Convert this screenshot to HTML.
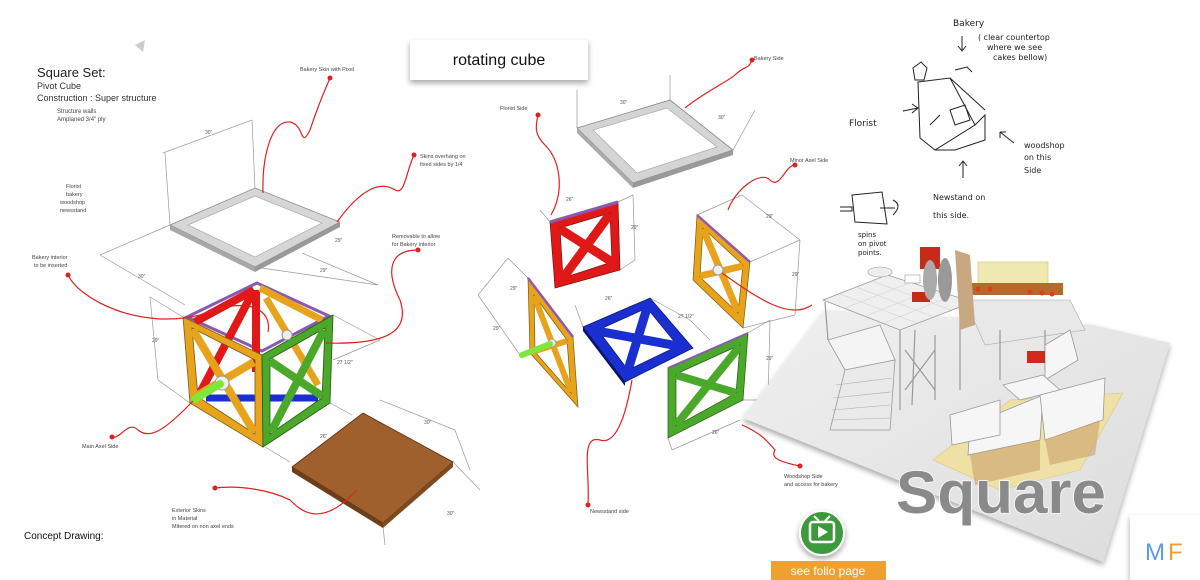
<!DOCTYPE html>
<html><head><meta charset="utf-8"><style>
html,body{margin:0;padding:0;background:#fff;}
body{width:1200px;height:580px;overflow:hidden;position:relative;font-family:"Liberation Sans",sans-serif;}
svg{position:absolute;left:0;top:0;}
</style></head><body>
<svg width="1200" height="580" viewBox="0 0 1200 580" xmlns="http://www.w3.org/2000/svg" font-family="Liberation Sans, sans-serif">
<defs>
<filter id="sh" x="-20%" y="-20%" width="140%" height="160%"><feDropShadow dx="0" dy="3" stdDeviation="3" flood-opacity="0.35"/></filter>
<linearGradient id="plat" x1="0" y1="0" x2="1" y2="1"><stop offset="0" stop-color="#f0f0f0"/><stop offset="1" stop-color="#dcdcdc"/></linearGradient>
</defs>

<!-- Left title text -->
<text x="37" y="77" font-size="13" fill="#222">Square Set:</text>
<text x="37" y="89" font-size="9" fill="#333">Pivot Cube</text>
<text x="37" y="101" font-size="9" fill="#333">Construction : Super structure</text>
<text x="57" y="113" font-size="6" fill="#444">Structure walls</text>
<text x="57" y="121" font-size="6" fill="#444">Amplaned 3/4" ply</text>
<text x="24" y="539" font-size="10" fill="#111">Concept Drawing:</text>
<text x="66" y="188" font-size="5.5" fill="#444">Florist</text>
<text x="66" y="196" font-size="5.5" fill="#444">bakery</text>
<text x="60" y="204" font-size="5.5" fill="#444">woodshop</text>
<text x="60" y="212" font-size="5.5" fill="#444">newsstand</text>
<text x="32" y="259" font-size="5.5" fill="#444">Bakery interior</text>
<text x="34" y="267" font-size="5.5" fill="#444">to be inserted</text>
<text x="82" y="448" font-size="5.5" fill="#444">Main Axel Side</text>
<text x="300" y="71" font-size="5.5" fill="#444">Bakery Skin with Pixel</text>
<text x="420" y="158" font-size="5.5" fill="#444">Skins overhang on</text>
<text x="420" y="166" font-size="5.5" fill="#444">fixed sides by 1/4</text>
<text x="392" y="238" font-size="5.5" fill="#444">Removable to allow</text>
<text x="392" y="246" font-size="5.5" fill="#444">for Bakery interior</text>
<text x="172" y="512" font-size="5.5" fill="#444">Exterior Skins</text>
<text x="172" y="520" font-size="5.5" fill="#444">in Material</text>
<text x="172" y="528" font-size="5.5" fill="#444">Mitered on non axel ends</text>
<text x="500" y="110" font-size="5.5" fill="#444">Florist Side</text>
<text x="754" y="60" font-size="5.5" fill="#444">Bakery Side</text>
<text x="790" y="162" font-size="5.5" fill="#444">Minor Axel Side</text>
<text x="590" y="513" font-size="5.5" fill="#444">Newsstand side</text>
<text x="784" y="478" font-size="5.5" fill="#444">Woodshop Side</text>
<text x="784" y="486" font-size="5.5" fill="#444">and access for bakery</text>

<!-- dimension lines -->
<g stroke="#999" stroke-width="0.7" fill="none">
<path d="M163 153 L252 120 M252 120 L255 188 M165 153 L170 225"/>
<path d="M100 255 L170 225 M100 255 L185 305 M302 253 L378 285 M255 267 L378 285"/>
<path d="M150 297 L183 317 M150 297 L158 380 M158 380 L190 403 M333 315 L380 340 M380 340 L333 360"/>
<path d="M265 447 L290 462 M330 403 L352 415 M380 400 L455 430 M455 430 L470 470 M383 527 L385 545 M453 462 L480 490"/>
<path d="M577 128 L577 90 M670 100 L670 75 M733 150 L755 110"/>
<path d="M550 222 L540 210 M618 202 L633 195 M633 195 L635 260 M620 270 L635 260"/>
<path d="M697 215 L742 195 M742 195 L800 240 M800 240 L795 315 M750 262 L800 240 M743 328 L795 315"/>
<path d="M528 278 L508 258 M508 258 L478 295 M478 295 L520 355 M575 305 L583 327 M650 298 L690 320 M690 320 L710 340"/>
<path d="M748 333 L770 320 M770 320 L768 400 M743 400 L768 400 M668 438 L672 450 M672 450 L740 420"/>
</g>
<g font-size="5" fill="#555">
<text x="205" y="134">30"</text><text x="138" y="278">30"</text><text x="335" y="242">29"</text><text x="152" y="342">29"</text>
<text x="337" y="364">27 1/2"</text><text x="320" y="272">29"</text><text x="320" y="438">26"</text><text x="424" y="424">30"</text><text x="447" y="515">30"</text>
<text x="620" y="104">30"</text><text x="718" y="119">30"</text><text x="566" y="201">26"</text><text x="631" y="229">29"</text><text x="766" y="218">29"</text><text x="792" y="276">29"</text>
<text x="510" y="290">29"</text><text x="493" y="330">29"</text><text x="605" y="300">26"</text><text x="678" y="318">27 1/2"</text><text x="766" y="360">29"</text><text x="712" y="434">26"</text>
</g>

<!-- Top frame left -->
<polygon points="170,225 255,188 340,222 255,267" fill="#d6d6d6" stroke="#888" stroke-width="0.8"/>
<polygon points="188,225 255,196 322,223 255,257" fill="#fff" stroke="#aaa" stroke-width="0.7"/>
<polygon points="170,225 255,267 255,272 170,230" fill="#a8a8a8"/>
<polygon points="255,267 340,222 340,227 255,272" fill="#999"/>

<!-- Cube -->
<polygon points="183,317 257,280 333,315 262,355" fill="#fff"/>
<polygon points="187,317 257,283 329,316 262,351" fill="none" stroke="#8a5ab0" stroke-width="3"/>
<g stroke="#e01818" stroke-width="8"><line x1="195" y1="322" x2="254" y2="290"/><line x1="200" y1="393" x2="254" y2="290"/><line x1="256" y1="290" x2="256" y2="372"/></g>
<line x1="260" y1="288" x2="322" y2="320" stroke="#e8a31c" stroke-width="7"/>
<line x1="266" y1="298" x2="318" y2="385" stroke="#e8a31c" stroke-width="7"/>
<line x1="206" y1="398" x2="318" y2="398" stroke="#1a2fd0" stroke-width="7"/>
<!-- left face -->
<path d="M183,317 L262,355 L263,447 L190,403 Z M192,328 L255,360 L255,434 L198,397 Z" fill="#e8a31c" fill-rule="evenodd" stroke="#7a5a10" stroke-width="0.8"/>
<g stroke="#e8a31c" stroke-width="8"><line x1="193" y1="330" x2="254" y2="432"/><line x1="254" y1="362" x2="198" y2="395"/></g>
<!-- right face -->
<path d="M262,355 L333,315 L330,403 L263,447 Z M270,359 L325,328 L322,398 L270,434 Z" fill="#4aa82a" fill-rule="evenodd" stroke="#2a5a10" stroke-width="0.8"/>
<g stroke="#4aa82a" stroke-width="8"><line x1="270" y1="361" x2="322" y2="396"/><line x1="324" y1="330" x2="271" y2="432"/></g>
<circle cx="222" cy="383" r="7" fill="#eee" stroke="#999"/>
<line x1="195" y1="399" x2="220" y2="384" stroke="#7de83a" stroke-width="8" stroke-linecap="round"/>
<circle cx="287" cy="335" r="5" fill="#eee" stroke="#999"/>

<!-- brown skin -->
<polygon points="292,467 363,413 453,462 383,523" fill="#a0602e" stroke="#5a3010" stroke-width="0.8"/>
<polygon points="292,467 383,523 383,528 292,472" fill="#6e3e18"/>
<polygon points="383,523 453,462 453,467 383,528" fill="#7e4a20"/>

<!-- rotating cube label -->
<rect x="410" y="40" width="178" height="40" fill="#fff" filter="url(#sh)"/>
<text x="499" y="65" font-size="16" text-anchor="middle" fill="#111">rotating cube</text>
<polygon points="135,45 145,40 143,52" fill="#ccc"/>

<!-- Middle exploded -->
<polygon points="577,128 670,100 733,150 633,183" fill="#d4d4d4" stroke="#888" stroke-width="0.8"/>
<polygon points="593,130 667,108 717,147 637,173" fill="#fff" stroke="#aaa" stroke-width="0.7"/>
<polygon points="577,128 633,183 633,188 577,133" fill="#aaa"/>
<polygon points="633,183 733,150 733,155 633,188" fill="#999"/>
<!-- red panel -->
<path d="M550,222 L618,202 L620,270 L555,288 Z M560,228 L610,213 L612,262 L563,278 Z" fill="#e01818" fill-rule="evenodd" stroke="#7a1010" stroke-width="0.7"/>
<g stroke="#e01818" stroke-width="9"><line x1="560" y1="229" x2="612" y2="262"/><line x1="610" y1="214" x2="563" y2="278"/></g>
<line x1="550" y1="222" x2="618" y2="202" stroke="#8a5ab0" stroke-width="3"/>
<!-- right orange panel -->
<path d="M697,215 L750,262 L743,328 L693,280 Z M703,228 L743,265 L738,313 L700,277 Z" fill="#e8a31c" fill-rule="evenodd" stroke="#7a5a10" stroke-width="0.7"/>
<g stroke="#e8a31c" stroke-width="7"><line x1="703" y1="229" x2="738" y2="312"/><line x1="743" y1="266" x2="700" y2="276"/></g>
<line x1="697" y1="215" x2="750" y2="262" stroke="#8a5ab0" stroke-width="2.5"/>
<circle cx="718" cy="270" r="5" fill="#eee" stroke="#999"/>
<!-- left orange panel -->
<path d="M528,278 L573,337 L578,407 L530,353 Z M534,295 L567,340 L571,393 L535,352 Z" fill="#e8a31c" fill-rule="evenodd" stroke="#7a5a10" stroke-width="0.7"/>
<g stroke="#e8a31c" stroke-width="6"><line x1="534" y1="296" x2="571" y2="392"/><line x1="567" y1="341" x2="535" y2="351"/></g>
<line x1="528" y1="278" x2="573" y2="337" stroke="#8a5ab0" stroke-width="2.5"/>
<circle cx="552" cy="343" r="4" fill="#eee" stroke="#999"/>
<line x1="522" y1="355" x2="550" y2="344" stroke="#7de83a" stroke-width="6" stroke-linecap="round"/>
<!-- blue -->
<path d="M583,327 L650,298 L693,348 L625,382 Z M598,330 L647,308 L678,346 L628,370 Z" fill="#1a2fd0" fill-rule="evenodd" stroke="#0a1570" stroke-width="0.7"/>
<g stroke="#1a2fd0" stroke-width="9"><line x1="597" y1="331" x2="678" y2="346"/><line x1="647" y1="308" x2="628" y2="370"/></g>
<polygon points="583,327 625,382 625,386 583,331" fill="#0a1570"/>
<!-- green -->
<path d="M668,368 L748,333 L743,400 L668,438 Z M676,374 L740,345 L736,393 L676,426 Z" fill="#4aa82a" fill-rule="evenodd" stroke="#2a5a10" stroke-width="0.7"/>
<g stroke="#4aa82a" stroke-width="8"><line x1="676" y1="375" x2="736" y2="393"/><line x1="740" y1="346" x2="676" y2="425"/></g>
<line x1="668" y1="368" x2="748" y2="333" stroke="#8a5ab0" stroke-width="2"/>

<!-- Platform floor -->
<polygon points="743,418 825,310 1093,325 1170,343 1103,562" fill="url(#plat)" filter="url(#sh)"/>
<!-- yellow mats -->
<polygon points="933,460 1010,400 1123,393 1080,470 1000,490" fill="#efe0a6" stroke="#d8c680" stroke-width="0.6"/>
<!-- elevated grid platform -->
<polygon points="823,300 887,275 973,302 900,330" fill="#efefef" stroke="#999" stroke-width="0.8"/>
<g stroke="#ccc" stroke-width="0.5">
<line x1="840" y1="294" x2="917" y2="323"/><line x1="856" y1="287" x2="934" y2="317"/><line x1="872" y1="281" x2="951" y2="310"/>
<line x1="845" y1="308" x2="909" y2="283"/><line x1="866" y1="316" x2="930" y2="290"/><line x1="884" y1="323" x2="951" y2="296"/>
</g>
<!-- right upper deck -->
<polygon points="965,300 1070,300 1085,330 985,345" fill="#e8e8e8" stroke="#aaa" stroke-width="0.6"/>
<!-- legs -->
<g stroke="#999" stroke-width="1.2">
<line x1="825" y1="302" x2="828" y2="340"/><line x1="900" y1="330" x2="900" y2="410"/><line x1="915" y1="330" x2="912" y2="405"/><line x1="935" y1="335" x2="935" y2="400"/>
<line x1="960" y1="320" x2="960" y2="390"/><line x1="1000" y1="330" x2="1000" y2="380"/><line x1="1045" y1="330" x2="1045" y2="370"/>
<line x1="905" y1="350" x2="935" y2="390"/><line x1="935" y1="350" x2="905" y2="390"/>
</g>
<!-- stair block -->
<polygon points="828,340 880,325 895,360 845,370" fill="#f4f4f4" stroke="#999" stroke-width="0.8"/>
<polygon points="845,370 895,360 890,430 830,430" fill="#eaeaea" stroke="#999" stroke-width="0.8"/>
<g stroke="#aaa" stroke-width="0.6"><line x1="836" y1="385" x2="892" y2="378"/><line x1="833" y1="398" x2="891" y2="392"/><line x1="832" y1="410" x2="890" y2="405"/><line x1="831" y1="420" x2="890" y2="418"/></g>
<!-- tables -->
<g fill="#f6f6f6" stroke="#999" stroke-width="0.8">
<polygon points="1045,345 1070,330 1078,360 1045,380"/>
<polygon points="1003,385 1043,375 1060,390 1020,400"/>
<polygon points="970,425 1043,395 1040,440 968,455"/>
<polygon points="1040,395 1105,378 1103,420 1045,440"/>
<polygon points="950,415 1000,400 1000,435 952,445"/>
</g>
<polygon points="970,455 1040,440 1040,470 975,485" fill="#c9a06a" opacity="0.6"/>
<polygon points="1045,440 1100,420 1095,455 1050,465" fill="#c9a06a" opacity="0.6"/>
<!-- produce -->
<rect x="978" y="262" width="70" height="22" fill="#efe8b0" stroke="#c8b870" stroke-width="0.5"/>
<rect x="968" y="283" width="95" height="12" fill="#b8682a"/>
<g fill="#d8401a"><circle cx="978" cy="289" r="2.5"/><circle cx="990" cy="289" r="2.5"/><circle cx="1030" cy="292" r="2.5"/><circle cx="1042" cy="293" r="2.5"/><circle cx="1052" cy="294" r="2.5"/></g>
<rect x="920" y="247" width="20" height="22" fill="#c82a1a"/>
<rect x="912" y="292" width="18" height="10" fill="#c82a1a"/>
<rect x="1027" y="351" width="18" height="12" fill="#d02a1a"/>
<polygon points="955,250 970,255 975,325 960,330" fill="#c8a880"/>
<ellipse cx="930" cy="280" rx="7" ry="20" fill="#aaa"/><ellipse cx="945" cy="280" rx="7" ry="22" fill="#999"/>
<ellipse cx="880" cy="272" rx="12" ry="5" fill="#eee" stroke="#999" stroke-width="0.6"/>
<rect x="905" y="275" width="15" height="8" fill="#fff" stroke="#999" stroke-width="0.6"/>

<!-- Square text -->
<text x="896" y="513" font-size="60" font-weight="bold" fill="#8a8a8a" stroke="#fff" stroke-width="1.5" paint-order="stroke" textLength="210" lengthAdjust="spacingAndGlyphs">Square</text>

<!-- sketch -->
<g font-family="DejaVu Sans, sans-serif" fill="#222">
<text x="953" y="26" font-size="9">Bakery</text>
<text x="978" y="40" font-size="8">( clear countertop</text>
<text x="987" y="50" font-size="8">where we see</text>
<text x="993" y="60" font-size="8">cakes bellow)</text>
<text x="849" y="126" font-size="9">Florist</text>
<text x="1024" y="148" font-size="8">woodshop</text>
<text x="1024" y="160" font-size="8">on this</text>
<text x="1024" y="173" font-size="8">Side</text>
<text x="933" y="200" font-size="8">Newstand on</text>
<text x="933" y="218" font-size="8">this side.</text>
<text x="858" y="237" font-size="7">spins</text>
<text x="858" y="246" font-size="7">on pivot</text>
<text x="858" y="255" font-size="7">points.</text>
</g>
<g stroke="#222" stroke-width="1" fill="none">
<path d="M918 82 L950 78 L975 125 L935 150 L920 138 Z M975 125 L985 115 L985 140 L955 150 L935 150 M950 78 L985 110"/>
<path d="M913 68 l8 -6 l6 6 l-3 12 l-9 0 z M955 70 l12 -3 l5 5"/>
<path d="M950 110 l15 -5 l5 15 l-15 5 z M930 125 l10 -10"/>
<path d="M962 36 L962 50 M958 46 L962 51 L966 46 M904 111 L903 111 L918 108 M912 104 L918 108 L912 113 M1014 143 L1000 132 M1000 132 L1006 132 M1000 132 L1000 138 M963 178 L963 162 M959 166 L963 161 L967 166"/>
<path d="M852 195 L882 192 L887 224 L855 222 Z M840 211 L852 211 L852 207 L840 207 M880 208 L895 208 M893 200 q10 5 0 15"/>
</g>

<!-- red connectors -->
<g stroke="#e02020" stroke-width="1.2" fill="none">
<path d="M263 193 C 262 160, 270 120, 290 122 C 305 125, 300 150, 310 130 C 320 100, 325 90, 330 78"/>
<path d="M337 222 C 360 190, 380 180, 395 190 C 405 195, 405 175, 414 155"/>
<path d="M268 332 C 272 310, 250 295, 200 315 C 140 330, 80 300, 68 275"/>
<path d="M326 343 C 390 345, 410 330, 400 300 C 385 270, 390 250, 418 250"/>
<path d="M193 401 C 165 430, 150 440, 138 430 C 128 420, 120 440, 112 437"/>
<path d="M357 490 C 320 530, 300 510, 290 500 C 270 490, 240 485, 215 488"/>
<path d="M551 215 C 565 190, 560 160, 545 145 C 535 135, 535 128, 538 115"/>
<path d="M685 108 C 700 95, 730 80, 735 75 C 745 65, 748 70, 752 60"/>
<path d="M728 210 C 735 190, 760 170, 770 180 C 780 190, 785 165, 795 165"/>
<path d="M722 273 C 760 300, 790 320, 812 305"/>
<path d="M632 380 C 625 420, 615 445, 600 440 C 580 435, 590 470, 588 505"/>
<path d="M742 425 C 765 435, 770 445, 775 450 C 770 458, 780 462, 800 466"/>
</g>
<g fill="#e02020">
<circle cx="414" cy="155" r="2.5"/><circle cx="330" cy="78" r="2.5"/><circle cx="418" cy="250" r="2.5"/><circle cx="68" cy="275" r="2.5"/><circle cx="112" cy="437" r="2.5"/>
<circle cx="215" cy="488" r="2.5"/><circle cx="538" cy="115" r="2.5"/><circle cx="752" cy="60" r="2.5"/><circle cx="795" cy="165" r="2.5"/>
<circle cx="588" cy="505" r="2.5"/><circle cx="800" cy="466" r="2.5"/>
</g>

<!-- folio button -->
<circle cx="822" cy="533" r="22" fill="#3a9a3a" stroke="#fff" stroke-width="2" filter="url(#sh)"/>
<rect x="810" y="522" width="24" height="20" rx="3" fill="none" stroke="#fff" stroke-width="2.5"/>
<polygon points="818,526 818,538 828,532" fill="#fff"/>
<path d="M814 516 L819 521 M830 516 L825 521" stroke="#fff" stroke-width="2"/>
<rect x="771" y="561" width="115" height="19" fill="#f0a030"/>
<text x="828" y="575" font-size="12" text-anchor="middle" fill="#fff">see folio page</text>

<!-- MF -->
<rect x="1130" y="515" width="70" height="65" fill="#fff" filter="url(#sh)"/>
<text x="1145" y="560" font-size="24" fill="#5a9ae8">M</text>
<text x="1168" y="560" font-size="24" fill="#f0a030">F</text>
</svg>
</body></html>
